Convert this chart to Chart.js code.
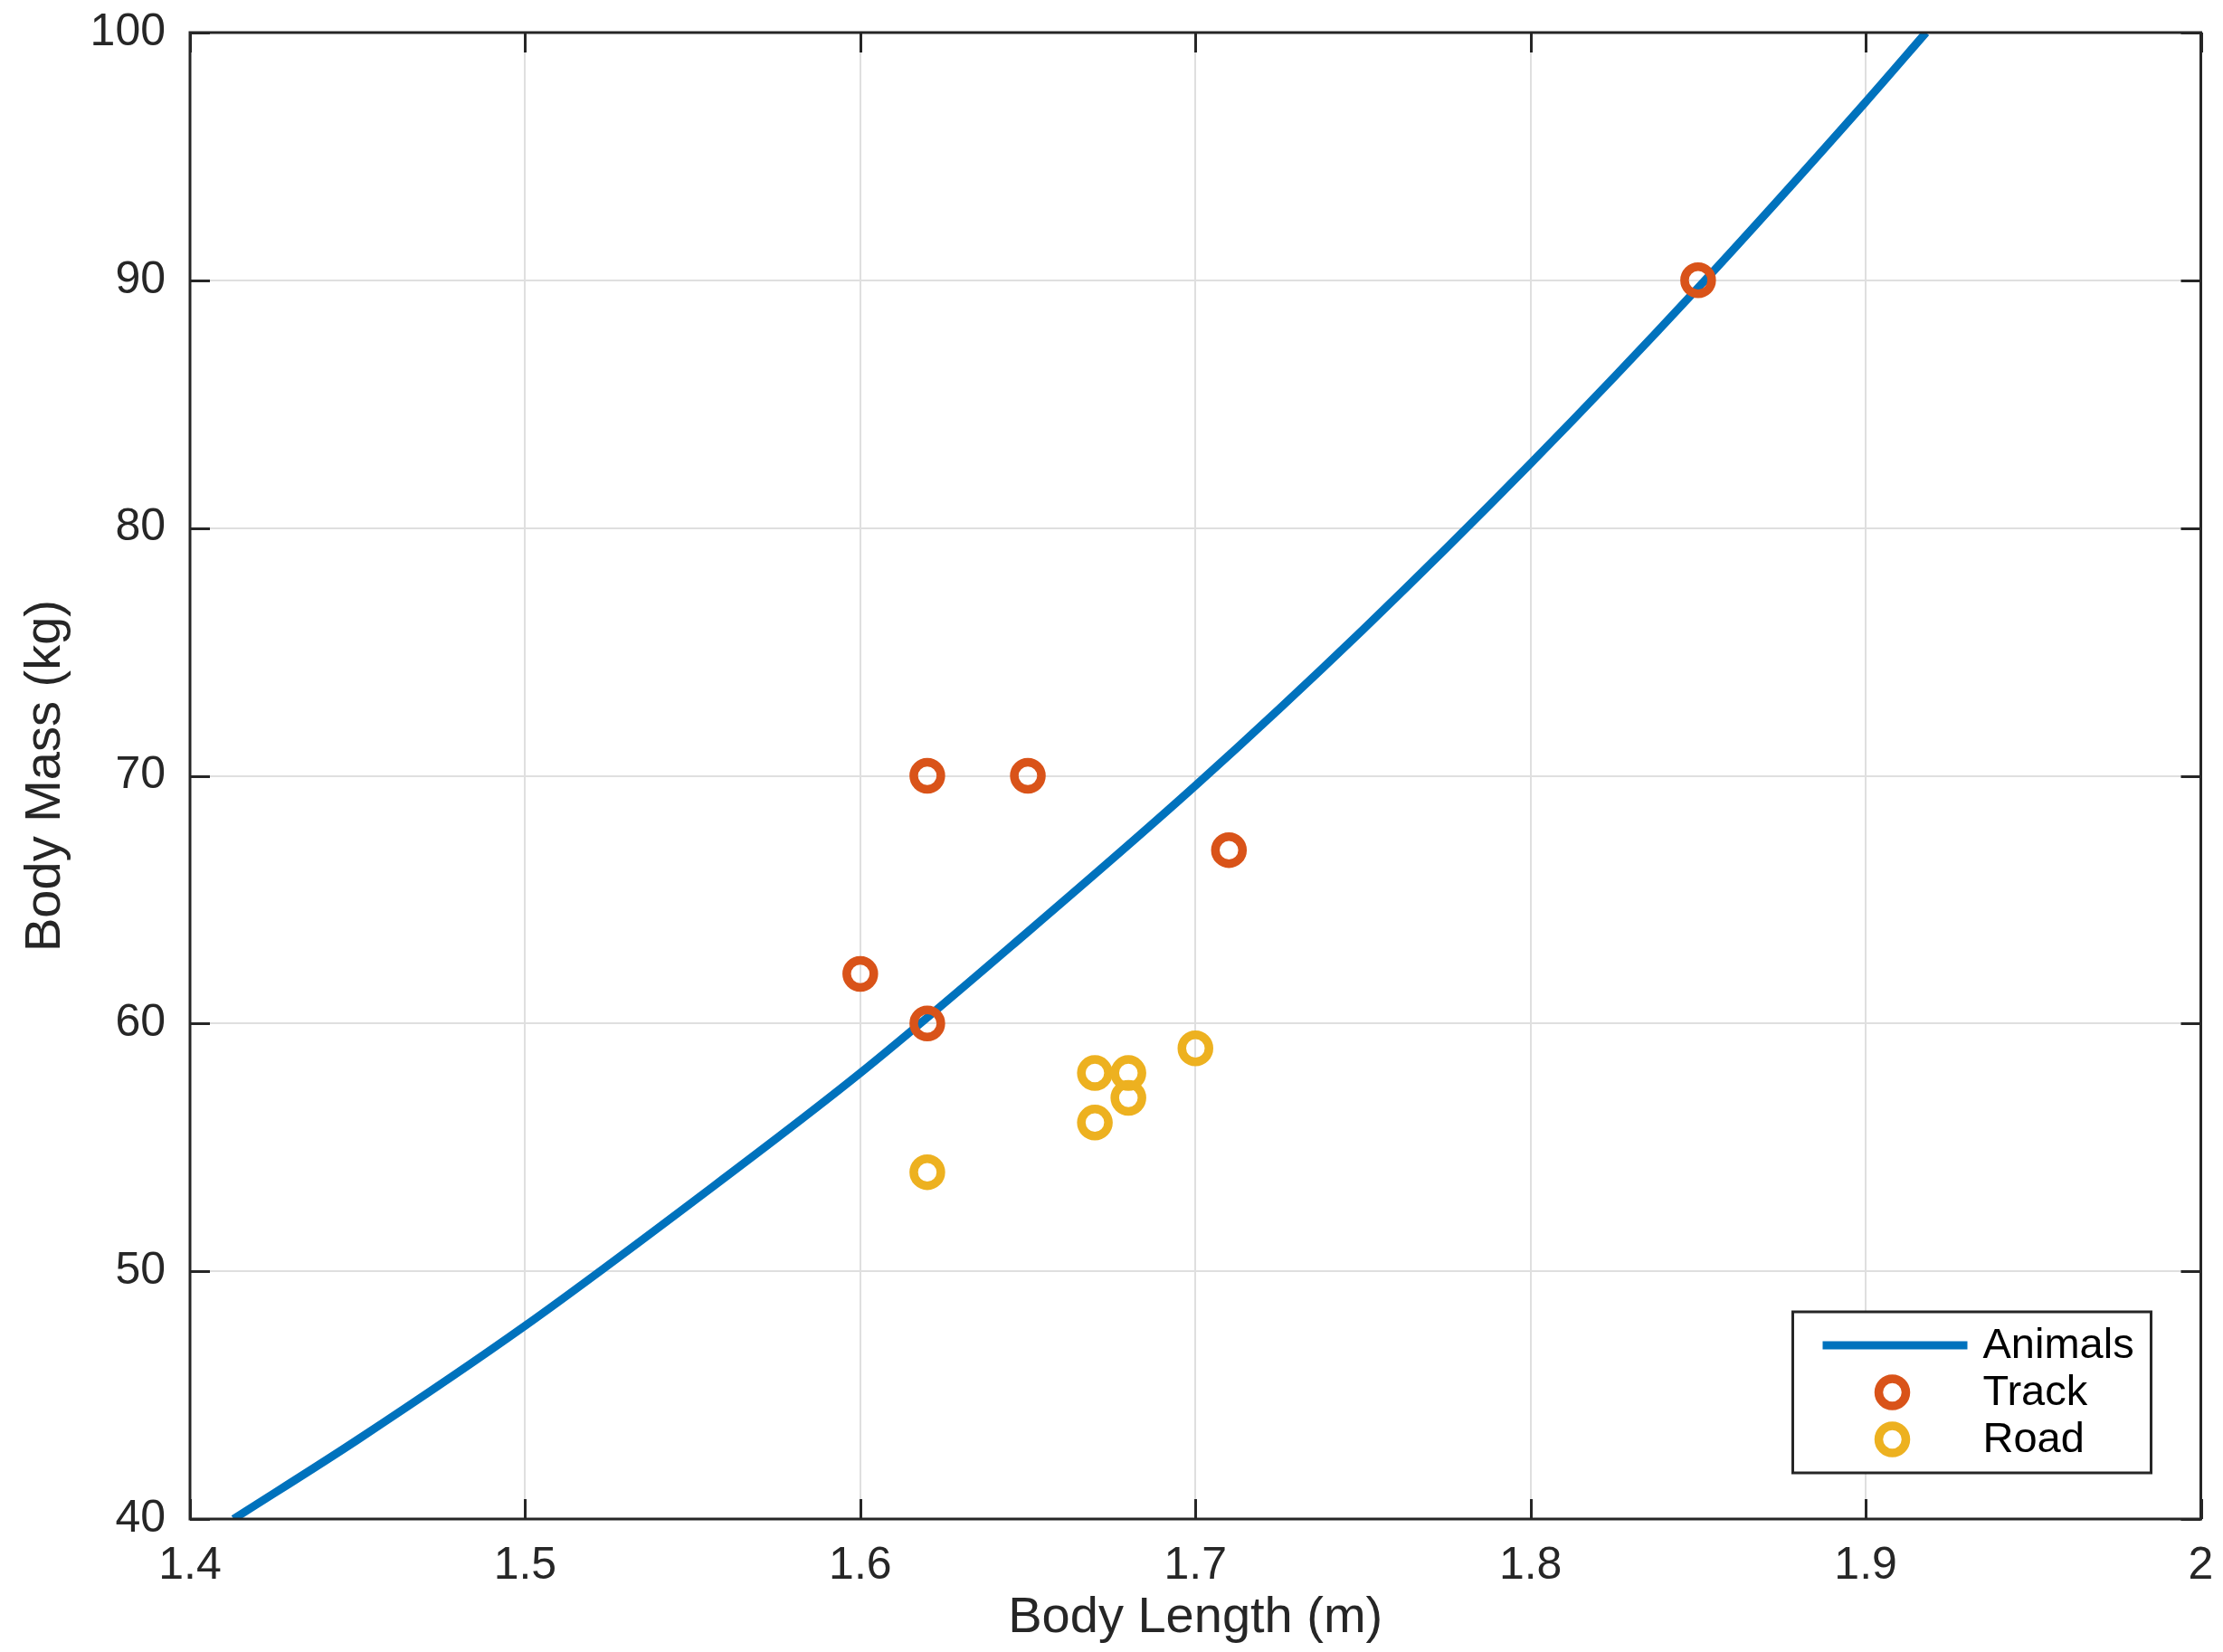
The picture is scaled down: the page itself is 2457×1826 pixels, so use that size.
<!DOCTYPE html>
<html>
<head>
<meta charset="utf-8">
<script src="https://cdn.jsdelivr.net/npm/chart.js@4.4.1/dist/chart.umd.min.js"></script>
<style>
  html, body { margin: 0; padding: 0; background: #fff; }
  #wrap { width: 2457px; height: 1826px; }
</style>
</head>
<body>
<div id="wrap"><canvas id="chart" width="2457" height="1826"></canvas></div>
<script>
// values
const animalLength = [1.413, 1.45, 1.5, 1.55, 1.6, 1.65, 1.7, 1.75, 1.8, 1.85, 1.9, 1.918];
const animalMass = [40.0, 43.2, 47.8, 52.8, 58.0, 63.7, 69.6, 75.9, 82.6, 89.7, 97.2, 100.0];

const trackLength = [1.62, 1.65, 1.71, 1.60, 1.62, 1.85];
const trackMass = [70, 70, 67, 62, 60, 90];

const roadLength = [1.62, 1.67, 1.68, 1.68, 1.67, 1.70];
const roadMass = [54, 58, 58, 57, 56, 59];

const xTicks = [1.4, 1.5, 1.6, 1.7, 1.8, 1.9, 2.0];
const xTickLabels = ['1.4', '1.5', '1.6', '1.7', '1.8', '1.9', '2'];
const yTicks = [40, 50, 60, 70, 80, 90, 100];
const yTickLabels = ['40', '50', '60', '70', '80', '90', '100'];

const FONT = '"Liberation Sans", Helvetica, Arial, sans-serif';
const INK = '#262626';
const BLUE = '#0072BD';
const ORANGE = '#D95319';
const YELLOW = '#EDB120';

function toPoints(xs, ys) {
  return xs.map((x, i) => ({ x: x, y: ys[i] }));
}

// box round the axes with inward tick marks on all four sides
const axesBox = {
  id: 'axesBox',
  afterDatasetsDraw(chart) {
    const { ctx, chartArea: a, scales } = chart;
    const len = 22;
    ctx.save();
    ctx.strokeStyle = INK;
    ctx.lineWidth = 3;
    ctx.beginPath();
    scales.x.ticks.forEach(t => {
      const px = Math.round(scales.x.getPixelForValue(t.value)) + 0.5;
      ctx.moveTo(px, a.bottom); ctx.lineTo(px, a.bottom - len);
      ctx.moveTo(px, a.top); ctx.lineTo(px, a.top + len);
    });
    scales.y.ticks.forEach(t => {
      const py = Math.round(scales.y.getPixelForValue(t.value)) + 0.5;
      ctx.moveTo(a.left, py); ctx.lineTo(a.left + len, py);
      ctx.moveTo(a.right, py); ctx.lineTo(a.right - len, py);
    });
    ctx.stroke();
    ctx.strokeRect(a.left, a.top, a.right - a.left, a.bottom - a.top);
    ctx.restore();
  }
};

// MATLAB-like legend in the lower right corner
const boxLegend = {
  id: 'boxLegend',
  afterDraw(chart) {
    const { ctx, chartArea: a } = chart;
    const w = 396, h = 178;
    const x0 = a.right - 55 - w;
    const y0 = a.bottom - 51 - h;
    ctx.save();
    ctx.fillStyle = '#fff';
    ctx.fillRect(x0, y0, w, h);
    ctx.strokeStyle = INK;
    ctx.lineWidth = 3;
    ctx.strokeRect(x0, y0, w, h);

    const rows = [37, 89, 141];
    const symX = x0 + 110;
    chart.data.datasets.forEach((ds, i) => {
      const cy = y0 + rows[i];
      ctx.strokeStyle = ds.borderColor;
      ctx.lineWidth = ds.borderWidth;
      ctx.beginPath();
      if (ds.type === 'line') {
        ctx.moveTo(x0 + 33, cy); ctx.lineTo(x0 + 193, cy);
      } else {
        ctx.arc(symX, cy, ds.pointRadius, 0, Math.PI * 2);
      }
      ctx.stroke();
      ctx.fillStyle = '#000';
      ctx.font = '47px ' + FONT;
      ctx.textBaseline = 'alphabetic';
      ctx.textAlign = 'left';
      ctx.fillText(ds.label, x0 + 210, cy + 14);
    });
    ctx.restore();
  }
};

new Chart(document.getElementById('chart'), {
  data: {
    datasets: [
      {
        type: 'line',
        label: 'Animals',
        data: toPoints(animalLength, animalMass),
        borderColor: BLUE,
        borderWidth: 9,
        pointRadius: 0,
        fill: false,
        cubicInterpolationMode: 'monotone',
        order: 3,
      },
      {
        type: 'scatter',
        label: 'Track',
        data: toPoints(trackLength, trackMass),
        borderColor: ORANGE,
        backgroundColor: 'rgba(0,0,0,0)',
        borderWidth: 9.5,
        pointRadius: 15,
        pointHoverRadius: 15,
        order: 2,
      },
      {
        type: 'scatter',
        label: 'Road',
        data: toPoints(roadLength, roadMass),
        borderColor: YELLOW,
        backgroundColor: 'rgba(0,0,0,0)',
        borderWidth: 9.5,
        pointRadius: 15,
        pointHoverRadius: 15,
        order: 1,
      },
    ],
  },
  options: {
    responsive: false,
    animation: false,
    events: [],
    layout: { padding: { top: 36, right: 16, left: 0, bottom: 0 } },
    plugins: {
      legend: { display: false },
      tooltip: { enabled: false },
    },
    scales: {
      x: {
        type: 'linear',
        position: 'bottom',
        min: 1.4,
        max: 2.0,
        afterBuildTicks: s => { s.ticks = xTicks.map(v => ({ value: v })); },
        afterFit: s => {
          s.height = 147;
          s.paddingLeft = 0; s.paddingRight = 0;
        },
        grid: { color: '#dfdfdf', lineWidth: 2, drawTicks: false },
        border: { display: false },
        ticks: {
          padding: 22,
          color: INK,
          font: { family: FONT, size: 50 },
          maxRotation: 0,
          callback: (v, i) => xTickLabels[i],
        },
        title: {
          display: true,
          text: 'Body Length (m)',
          color: INK,
          font: { family: FONT, size: 56 },
          padding: { bottom: 4 },
        },
      },
      y: {
        type: 'linear',
        position: 'left',
        min: 40,
        max: 100,
        afterBuildTicks: s => { s.ticks = yTicks.map(v => ({ value: v })); },
        afterFit: s => {
          s.width = 210;
          s.paddingTop = 0; s.paddingBottom = 0;
        },
        grid: { color: '#dfdfdf', lineWidth: 2, drawTicks: false },
        border: { display: false },
        ticks: {
          padding: 27,
          color: INK,
          font: { family: FONT, size: 50 },
          callback: (v, i) => yTickLabels[i],
        },
        title: {
          display: true,
          text: 'Body Mass (kg)',
          color: INK,
          font: { family: FONT, size: 56 },
          padding: { top: 17 },
        },
      },
    },
  },
  plugins: [axesBox, boxLegend],
});
</script>
</body>
</html>
